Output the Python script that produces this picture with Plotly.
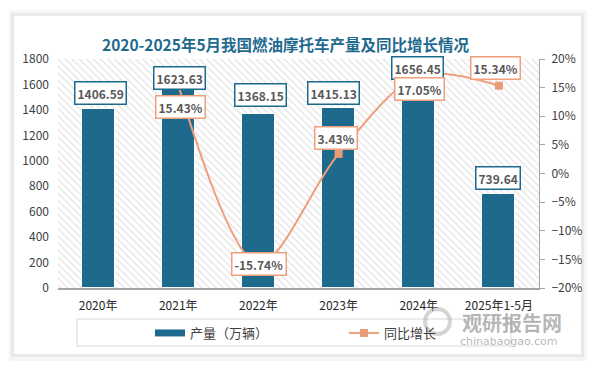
import plotly.graph_objects as go

# ---------------- data ----------------
categories = ["2020年", "2021年", "2022年", "2023年", "2024年", "2025年1-5月"]
production = [1406.59, 1623.63, 1368.15, 1415.13, 1656.45, 739.64]   # 万辆
yoy_growth = [None, 0.1543, -0.1574, 0.0343, 0.1705, 0.1534]        # 同比增长
production_labels = ["1406.59", "1623.63", "1368.15", "1415.13", "1656.45", "739.64"]
growth_labels = [None, "15.43%", "-15.74%", "3.43%", "17.05%", "15.34%"]

Y_MAX = 1800
Y2_MIN, Y2_MAX = -0.20, 0.20

# ---------------- style ----------------
W, H = 594, 366
PL, PR, PT, PB = 58, 539, 59, 288
BAR_COLOR = "#1d6a8d"
LINE_COLOR = "#ee9f7c"
MARK_COLOR = "#e99a77"
TXT = "#404040"
LBL = "#595959"
FONT = "Noto Sans CJK SC"

# label offsets (pixels) for readability, as in the reference
bar_lbl_shift = [(2, 16), (1, 3), (2, 19), (-5, 15), (-1, 9), (-1, 16)]
line_lbl_shift = [None, (2, -22), (1, 0), (-3, 16), (1, -13), (-3, 18)]


def px(x):
    return (x - PL) / (PR - PL)


def py(y):
    return (PB - y) / (PB - PT)


fig = go.Figure()

# hatched plot-area background
fig.add_trace(go.Bar(
    x=categories, y=[Y_MAX] * len(categories), width=1,
    marker=dict(color="white", line=dict(width=0),
                pattern=dict(shape="\\", fgcolor="#cacaca", bgcolor="white",
                             size=5, solidity=0.28, fillmode="overlay")),
    hoverinfo="skip", showlegend=False,
))

# production bars
fig.add_trace(go.Bar(
    x=categories, y=production, width=0.41,
    marker=dict(color=BAR_COLOR, line=dict(color="white", width=1)),
    name="产量（万辆）", showlegend=False,
))

# growth line
fig.add_trace(go.Scatter(
    x=categories, y=yoy_growth, yaxis="y2", mode="lines+markers",
    line=dict(color=LINE_COLOR, width=2, shape="spline", smoothing=0.9),
    marker=dict(symbol="square", size=8, color=MARK_COLOR),
    name="同比增长", connectgaps=False, showlegend=False,
))

# legend entries
fig.add_trace(go.Scatter(
    x=[None], y=[None], mode="lines", line=dict(color=BAR_COLOR, width=7),
    name="产量（万辆）", legend="legend",
))
fig.add_trace(go.Scatter(
    x=[None], y=[None], mode="lines+markers", yaxis="y2",
    line=dict(color=LINE_COLOR, width=2),
    marker=dict(symbol="square", size=8, color=MARK_COLOR),
    name="同比增长", legend="legend2",
))

annotations = []
for c, v, t, (dx, dy) in zip(categories, production, production_labels, bar_lbl_shift):
    annotations.append(dict(
        x=c, y=v, xref="x", yref="y", text=t, showarrow=False,
        xshift=dx, yshift=dy, yanchor="middle",
        font=dict(family=FONT, size=12, color=LBL, weight="bold"),
        bgcolor="white", bordercolor=BAR_COLOR, borderwidth=1.5, borderpad=2,
    ))
for c, v, t, s in zip(categories, yoy_growth, growth_labels, line_lbl_shift):
    if v is None:
        continue
    annotations.append(dict(
        x=c, y=v, xref="x", yref="y2", text=t, showarrow=False,
        xshift=s[0], yshift=s[1], yanchor="middle",
        font=dict(family=FONT, size=12, color=LBL, weight="bold"),
        bgcolor="white", bordercolor=LINE_COLOR, borderwidth=1.5, borderpad=2,
    ))

# title
annotations.append(dict(
    x=px(286), y=py(44), xref="paper", yref="paper", showarrow=False,
    text="2020-2025年5月我国燃油摩托车产量及同比增长情况",
    xanchor="center", yanchor="middle",
    font=dict(family=FONT, size=15.5, color="#1f6a8e", weight="bold"),
))

# watermark
annotations.append(dict(
    x=px(512), y=py(322), xref="paper", yref="paper", showarrow=False,
    text="观研报告网", xanchor="center", yanchor="middle",
    font=dict(family=FONT, size=20, color="rgba(110,110,110,0.5)", weight="bold"),
))
annotations.append(dict(
    x=px(509), y=py(341), xref="paper", yref="paper", showarrow=False,
    text="chinabaogao.com", xanchor="center", yanchor="middle",
    font=dict(family="DejaVu Sans", size=11, color="rgba(110,110,110,0.5)"),
))

shapes = [
    # card shadow and card
    dict(type="rect", xref="paper", yref="paper", layer="below",
         x0=px(9), x1=px(587), y0=py(10), y1=py(361),
         fillcolor="#f5f5f5", line=dict(width=0)),
    dict(type="rect", xref="paper", yref="paper", layer="below",
         x0=px(11), x1=px(584), y0=py(13), y1=py(357),
         fillcolor="#e9e9e9", line=dict(width=0)),
    dict(type="rect", xref="paper", yref="paper", layer="below",
         x0=px(14), x1=px(581), y0=py(16), y1=py(354),
         fillcolor="white", line=dict(width=0)),
    # legend frame
    dict(type="rect", xref="paper", yref="paper",
         x0=px(77), x1=px(511), y0=py(319), y1=py(346),
         line=dict(color="#d9d9d9", width=1), fillcolor="rgba(0,0,0,0)"),
    # watermark logo ring
    dict(type="circle", xref="paper", yref="paper",
         x0=px(425), x1=px(450), y0=py(309), y1=py(334),
         line=dict(color="rgba(150,150,150,0.4)", width=4)),
]

legend_common = dict(orientation="h", xanchor="left", yanchor="middle",
                     bgcolor="rgba(0,0,0,0)", font=dict(size=13, color=TXT),
                     itemclick=False, itemdoubleclick=False)

fig.update_layout(
    width=W, height=H,
    margin=dict(l=PL, r=W - PR, t=PT, b=H - PB, pad=0),
    paper_bgcolor="white", plot_bgcolor="rgba(0,0,0,0)",
    barmode="overlay", bargap=0,
    font=dict(family=FONT, size=12, color=TXT),
    xaxis=dict(type="category", range=[-0.5, len(categories) - 0.5],
               showline=True, linecolor="#a6a6a6", linewidth=1.5,
               showgrid=False, ticks="", tickfont=dict(size=12, color="#262626"),
               ticklabelstandoff=6, fixedrange=True),
    yaxis=dict(range=[0, Y_MAX], dtick=200, showgrid=False, zeroline=False,
               showline=False, ticks="", tickfont=dict(size=12, color=TXT),
               ticklabelstandoff=8),
    yaxis2=dict(range=[Y2_MIN, Y2_MAX], dtick=0.05, tickformat=".0%",
                overlaying="y", side="right", showgrid=False, zeroline=False,
                showline=True, linecolor="#a6a6a6", linewidth=1,
                ticks="outside", ticklen=5, tickcolor="#a6a6a6",
                tickfont=dict(size=12, color=TXT), ticklabelstandoff=4),
    legend=dict(x=px(150), y=py(333), **legend_common),
    legend2=dict(x=px(344), y=py(333), **legend_common),
    annotations=annotations, shapes=shapes,
)

fig.write_html("out.html", config={"displayModeBar": False},
               post_script="document.body.style.margin='0';")
